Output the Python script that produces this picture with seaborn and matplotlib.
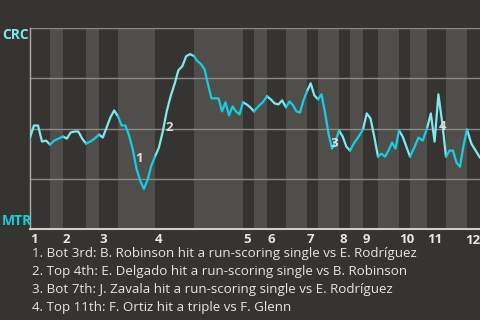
import numpy as np
import pandas as pd
import matplotlib
matplotlib.use("Agg")
import matplotlib.pyplot as plt
import seaborn as sns

# ---------------- data ----------------
innings = ["1", "2", "3", "4", "5", "6", "7", "8", "9", "10", "11", "12"]
# relative length of each half-inning (top 1st, bottom 1st, top 2nd, ...)
half_inning_width = [20, 13, 23, 13, 19, 37, 39, 49, 11, 13, 19, 21,
                     11, 21, 11, 13, 15, 21, 11, 17, 19, 21, 13]
# CRC win probability (%) at game start and after each plate appearance
start_wp = 45.5
wp_t1 = [51.5, 51.5, 43.5, 44, 42]
wp_b1 = [44, 45, 46]
wp_t2 = [45, 48, 48.5, 48.5, 45, 42.5]
wp_b2 = [43.5, 45, 47]
wp_t3 = [45.5, 50.5, 55.5, 59, 56]
wp_b3 = [51.5, 51.5, 46.5, 39.5, 30, 24, 20, 24.5, 31.5, 36]
wp_t4 = [40.5, 48.5, 58.5, 66, 72, 79, 81, 86, 87, 86]
wp_b4 = [83.5, 82, 79.5, 72, 65, 65, 65, 58.5, 63, 56.5, 61, 58.5, 57, 63]
wp_t5 = [62, 60.5, 58.5]
wp_b5 = [61, 63, 66]
wp_t6 = [64.5, 62.5, 62, 64, 60.5]
wp_b6 = [63.5, 61.5, 58.5, 58, 64, 68.5]
wp_t7 = [72.5, 66.5, 64.5]
wp_b7 = [67, 58, 47.5, 40, 43.5, 49]
wp_t8 = [46, 41, 39]
wp_b8 = [43, 46, 49.5]
wp_t9 = [57.5, 55, 46, 36]
wp_b9 = [37.5, 36, 39, 43, 40, 49]
wp_t10 = [46, 41, 36]
wp_b10 = [40.5, 45.5, 44, 50]
wp_t11 = [57.5, 43.5, 67, 53, 36]
wp_b11 = [39, 39, 33, 31, 41.5, 49.5]
wp_t12 = [42.5, 39, 35.5]
halves = [wp_t1, wp_b1, wp_t2, wp_b2, wp_t3, wp_b3, wp_t4, wp_b4, wp_t5, wp_b5,
          wp_t6, wp_b6, wp_t7, wp_b7, wp_t8, wp_b8, wp_t9, wp_b9, wp_t10, wp_b10,
          wp_t11, wp_b11, wp_t12]
teams = ["CRC", "MTR"]
events = [
    "1. Bot 3rd: B. Robinson hit a run-scoring single vs E. Rodríguez",
    "2. Top 4th: E. Delgado hit a run-scoring single vs B. Robinson",
    "3. Bot 7th: J. Zavala hit a run-scoring single vs E. Rodríguez",
    "4. Top 11th: F. Ortiz hit a triple vs F. Glenn",
]
# (half-inning index, plate appearance index) of each marked event
event_anchor = [(5, 4), (6, 1), (13, 3), (20, 1)]

# ---------------- build table ----------------
rows = []
starts = np.concatenate([[0], np.cumsum(half_inning_width)[:-1]])
prev_x, prev_y = 0.0, start_wp
pt_xy = {}
for h, vals in enumerate(halves):
    team = teams[h % 2]
    rows.append((h, team, prev_x, prev_y))
    n = len(vals)
    for i, v in enumerate(vals):
        x = starts[h] + (i + 1) * half_inning_width[h] / n
        rows.append((h, team, x, v))
        pt_xy[(h, i)] = (x, v)
        prev_x, prev_y = x, v
df = pd.DataFrame(rows, columns=["seg", "team", "x", "wp"])

# ---------------- style ----------------
BG = "#363430"
BAND = "#504e4b"
GRID = "#8c8a87"
TXT = "#e6e6e6"
pal = {"CRC": "#7fe9ef", "MTR": "#14cfe0"}
sns.set_theme(style="dark")
plt.rcParams["font.family"] = ["Open Sans", "DejaVu Sans"]

fig = plt.figure(figsize=(4.8, 3.2), dpi=100, facecolor=BG)
ax = fig.add_axes([30 / 480, 1 - 229 / 320, 450 / 480, 201 / 320])
ax.set_facecolor(BG)
total = float(sum(half_inning_width))

for h in range(1, len(halves), 2):
    ax.axvspan(starts[h], starts[h] + half_inning_width[h], color=BAND, lw=0, zorder=0)
for g in [25, 50, 75, 100]:
    ax.axhline(g, color=GRID, lw=1.0, zorder=1)

sns.lineplot(data=df, x="x", y="wp", hue="team", units="seg", estimator=None,
             palette=pal, linewidth=1.6, legend=False, sort=False, ax=ax, zorder=3)

ax.set_xlim(0, total)
ax.set_ylim(0, 100)
ax.set_xlabel("")
ax.set_ylabel("")
ax.set_yticks([])
ax.set_xticks(starts[0::2])
ax.set_xticklabels(innings, fontweight="bold", fontsize=9.5, color=TXT, ha="left")
ax.tick_params(axis="x", length=0, pad=3)
# last inning label is kept inside the figure edge
last = ax.get_xticklabels()[-1]
last.set_horizontalalignment("right")
last.set_x(total)
import matplotlib.transforms as mtrans
last.set_transform(ax.get_xaxis_transform() + mtrans.ScaledTranslation(0, 0, fig.dpi_scale_trans))
ax.get_xticklabels()[-1].set_visible(False)
ax.text(1.0, -0.025, innings[-1], transform=ax.transAxes, ha="right", va="top",
        fontweight="bold", fontsize=9.5, color=TXT)
for s in ["top", "right"]:
    ax.spines[s].set_visible(False)
ax.spines["left"].set_color("#b0aeab")
ax.spines["left"].set_linewidth(1.0)
ax.spines["bottom"].set_color("#cfcdca")
ax.spines["bottom"].set_linewidth(1.5)
ax.grid(False)

# team labels
fig.text(2 / 480, 1 - 28 / 320, "CRC", color=pal["CRC"], fontweight="bold",
         fontsize=10, ha="left", va="top")
fig.text(2 / 480, 1 - 228 / 320, "MTR", color=pal["MTR"], fontweight="bold",
         fontsize=10, ha="left", va="bottom")

# event markers
offsets = [(1.5, 7), (5, 3), (1.5, 3.5), (6, 11)]
for k, (h, i) in enumerate(event_anchor):
    x, y = pt_xy[(h, i)]
    ax.annotate(str(k + 1), (x, y), xytext=offsets[k], textcoords="offset points",
                ha="center", va="center", fontsize=9.5, fontweight="bold",
                color="#ececec", alpha=0.9, zorder=5)

# footnotes
for k, t in enumerate(events):
    fig.text(32 / 480, 1 - (257.5 + 18 * k) / 320, t, color=TXT, fontsize=9.6,
             ha="left", va="baseline")

fig.savefig("out.png", dpi=100, facecolor=BG)
